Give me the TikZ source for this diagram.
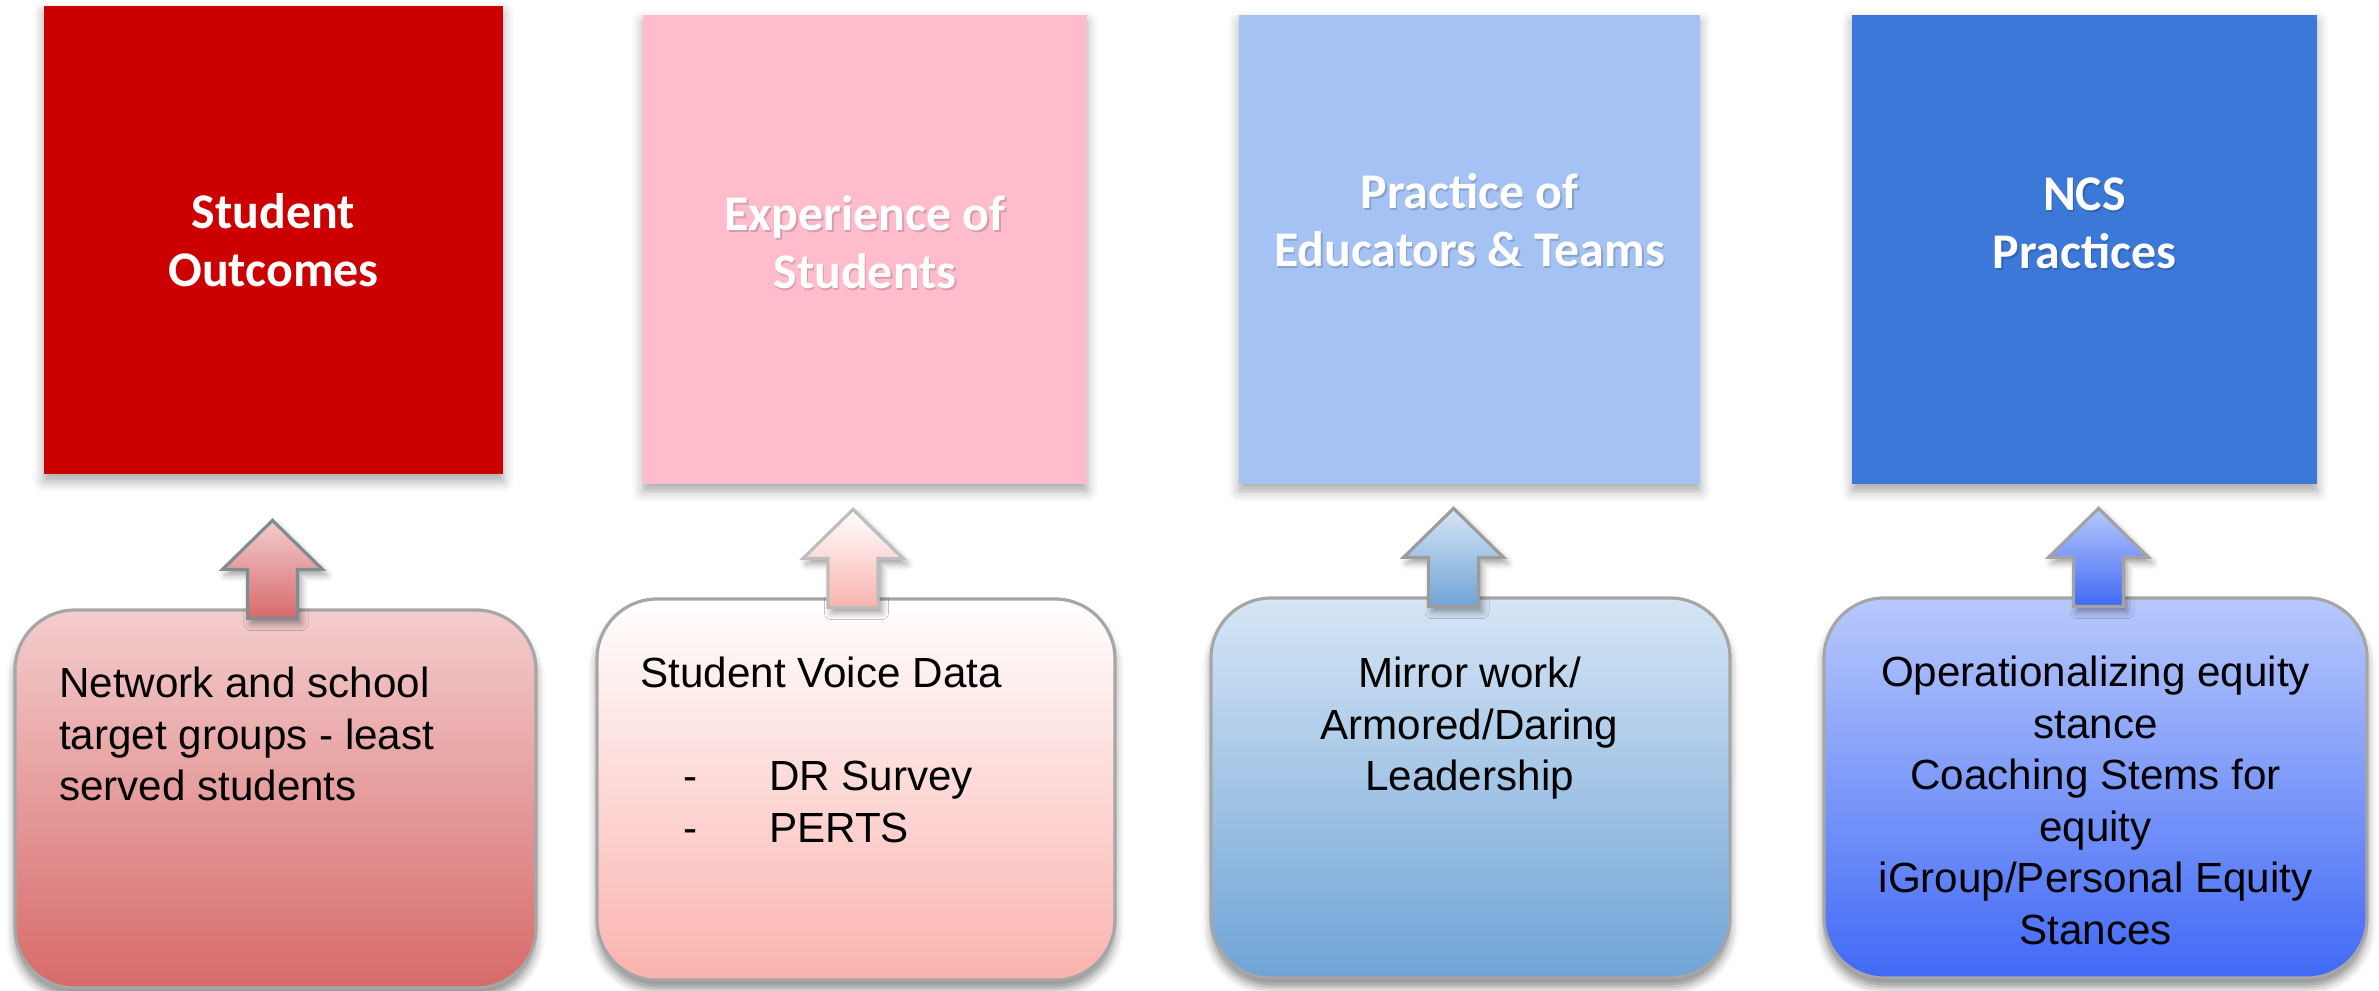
\documentclass[tikz,border=0pt]{standalone}
\usepackage{fontspec}
\setmainfont{Liberation Sans}
\newfontfamily\headfont{Carlito}
\usetikzlibrary{positioning, shadows.blur}

\definecolor{outred}{HTML}{CC0000}
\definecolor{exppink}{HTML}{FFBCCB}
\definecolor{pracblue}{HTML}{A4C2F4}
\definecolor{ncsblue}{HTML}{3C78D8}
\definecolor{redtop}{HTML}{F4CDCD}
\definecolor{redbot}{HTML}{D76A6A}
\definecolor{pinktop}{HTML}{FFFFFF}
\definecolor{pinkbot}{HTML}{FAB3AE}
\definecolor{skytop}{HTML}{D6E5F5}
\definecolor{skybot}{HTML}{6FA4D6}
\definecolor{ncstop}{HTML}{B8C9FC}
\definecolor{ncsbot}{HTML}{4169F5}
\definecolor{rimgray}{HTML}{A6A6A6}

\tikzset{
  topbox/.style={rectangle, inner sep=0pt,
    blur shadow={shadow xshift=0pt, shadow yshift=-2pt, shadow blur radius=3pt, shadow opacity=35}},
  boxtitle/.style={font=\headfont\bfseries\fontsize{14.2}{16.6}\selectfont, text=white,
    align=center, inner sep=0pt, anchor=south},
  titleshade/.style={boxtitle, text=black, opacity=0.16},
  basebox/.style={rectangle, rounded corners=0.6cm, draw=rimgray, line width=0.9pt, inner sep=0pt,
    blur shadow={shadow xshift=0pt, shadow yshift=-2.5pt, shadow blur radius=2.5pt, shadow opacity=45}},
  basetext/.style={font=\fontsize{12}{14.65}\selectfont, inner sep=0pt},
  uparrow/.style={line width=0.9pt,
    blur shadow={shadow xshift=1pt, shadow yshift=-1.5pt, shadow blur radius=2pt, shadow opacity=40}}
}

\newcommand{\dashitem}[1]{\makebox[1.285cm][l]{\hspace{0.425cm}-}#1}

\begin{document}
\begin{tikzpicture}
  \useasboundingbox (0,0) rectangle (23.79,9.90);

  % the four headline boxes
  \node[topbox, fill=outred, minimum width=4.59cm, minimum height=4.68cm] (t1) at (2.735,7.50) {};
  \node[topbox, fill=exppink, minimum width=4.44cm, minimum height=4.69cm] (t2) at (8.65,7.405) {};
  \node[topbox, fill=pracblue, minimum width=4.61cm, minimum height=4.69cm] (t3) at (14.695,7.405) {};
  \node[topbox, fill=ncsblue, minimum width=4.65cm, minimum height=4.69cm] (t4) at (20.845,7.405) {};

  \node[boxtitle] (l1) at (2.735,7.02) {Student\\Outcomes};
  \node[titleshade] (l2s) at (8.665,6.98) {Experience of\\Students};
  \node[boxtitle] (l2) at (8.65,7.00) {Experience of\\Students};
  \node[titleshade] (l3s) at (14.71,7.20) {Practice of\\Educators \& Teams};
  \node[boxtitle] (l3) at (14.695,7.22) {Practice of\\Educators \& Teams};
  \node[titleshade] (l4s) at (20.86,7.18) {NCS\\Practices};
  \node[boxtitle] (l4) at (20.845,7.20) {NCS\\Practices};

  % rounded boxes underneath
  \node[basebox, top color=redtop, bottom color=redbot, minimum width=5.21cm, minimum height=3.78cm] (b1) at (2.755,1.91) {};
  \node[basebox, top color=pinktop, bottom color=pinkbot, minimum width=5.18cm, minimum height=3.81cm] (b2) at (8.56,2.005) {};
  \node[basebox, top color=skytop, bottom color=skybot, minimum width=5.19cm, minimum height=3.80cm] (b3) at (14.705,2.02) {};
  \node[basebox, top color=ncstop, bottom color=ncsbot, minimum width=5.43cm, minimum height=3.80cm] (b4) at (20.955,2.02) {};

  % block arrows pointing up
  \foreach \i/\dx/\tc/\bc/\rim in {1/-0.03/redtop/redbot/7F8C94, 2/-0.03/pinktop/pinkbot/BDBDBD,
                                    3/-0.17/skytop/skybot/9C9C9C, 4/0.03/ncstop/ncsbot/A3A3A3}{
    \definecolor{arrowrim}{HTML}{\rim}
    \draw[uparrow, draw=arrowrim, top color=\tc, bottom color=\bc]
      ([xshift=\dx cm, yshift=-0.1cm]b\i.north) coordinate (a\i)
      -- ++(0.25,0) -- ++(0,0.49) -- ++(0.25,0) -- ++(-0.5,0.49)
      -- ++(-0.5,-0.49) -- ++(0.25,0) -- ++(0,-0.49) -- cycle;
  }

  \node[basetext, align=left, anchor=north west] (b1t) at ([xshift=0.45cm, yshift=-0.58cm]b1.north west)
    {Network and school\\target groups - least\\served students};
  \node[basetext, align=left, anchor=north west] (b2t) at ([xshift=0.445cm, yshift=-0.59cm]b2.north west)
    {Student Voice Data\\[14.65pt]\dashitem{DR Survey}\\\dashitem{PERTS}};
  \node[basetext, align=center, anchor=north] (b3t) at ([xshift=-0.01cm, yshift=-0.60cm]b3.north)
    {Mirror work/\\Armored/Daring\\Leadership};
  \node[basetext, align=center, anchor=north] (b4t) at ([yshift=-0.59cm]b4.north)
    {Operationalizing equity\\stance\\Coaching Stems for\\equity\\iGroup/Personal Equity\\Stances};
\end{tikzpicture}
\end{document}
